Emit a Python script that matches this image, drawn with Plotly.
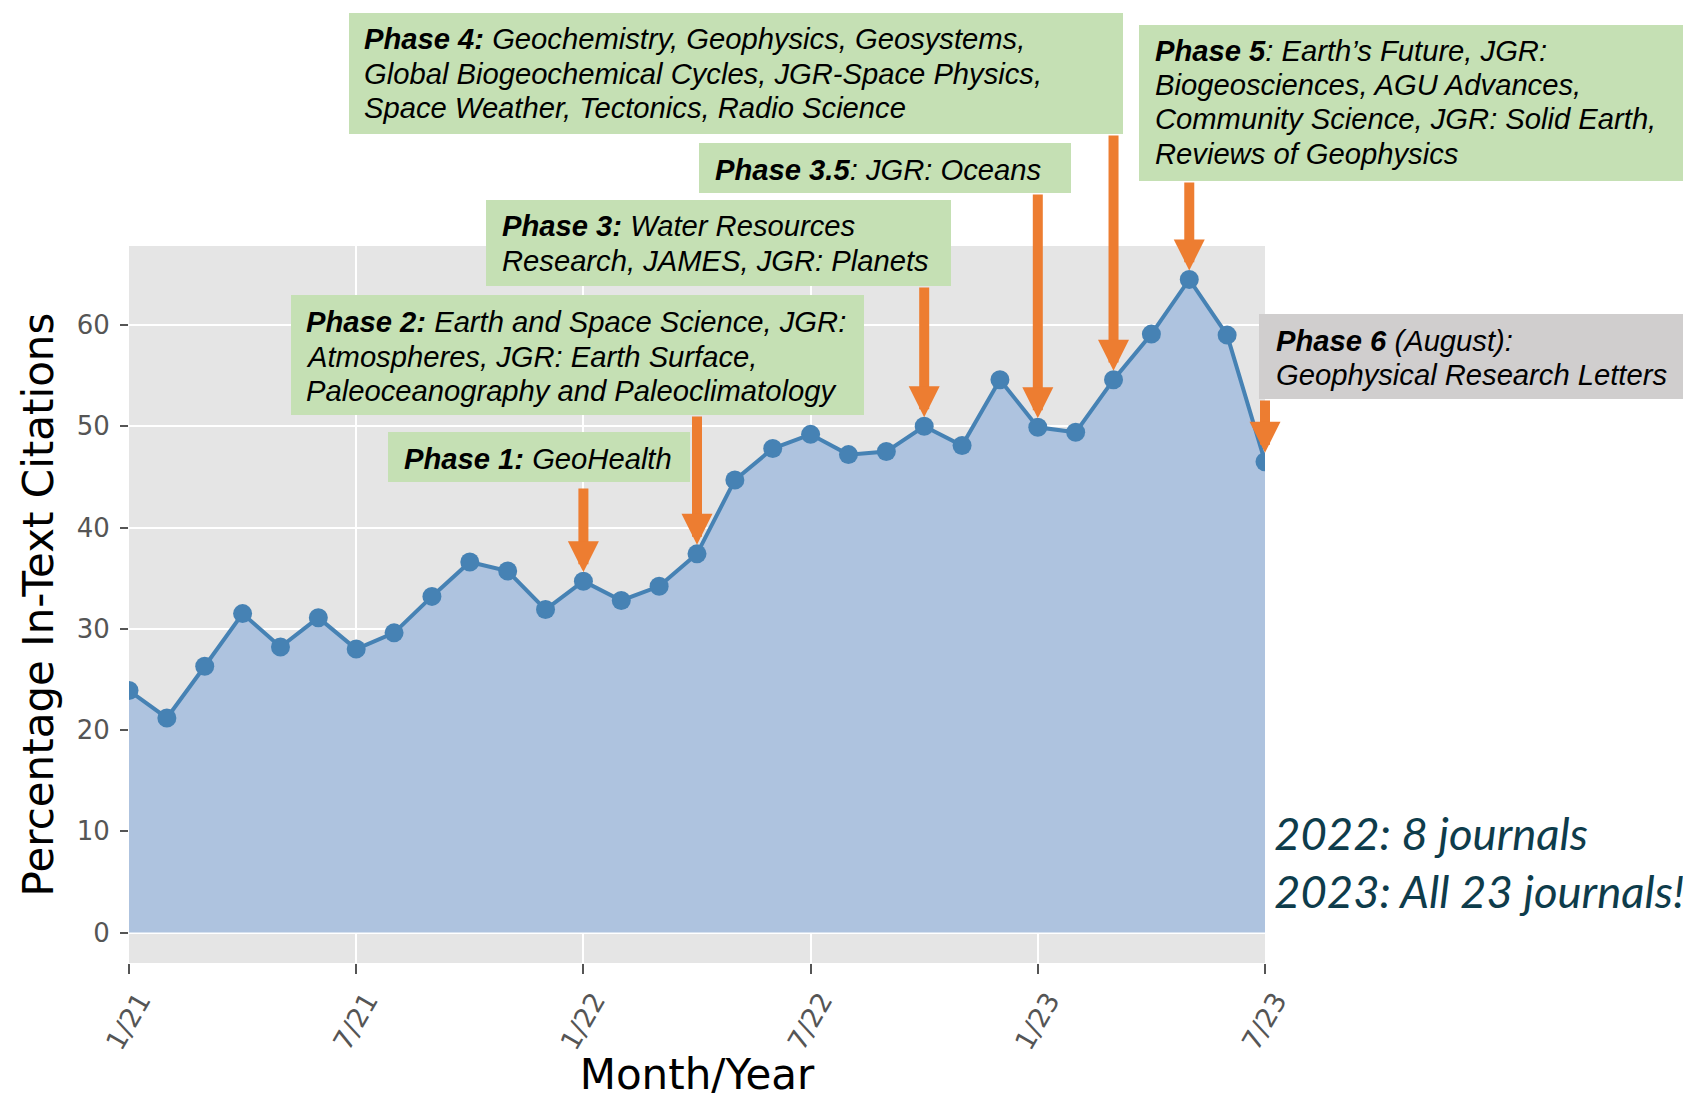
import plotly.graph_objects as go

# ---------------- data ----------------
months = ["1/21", "2/21", "3/21", "4/21", "5/21", "6/21", "7/21", "8/21", "9/21", "10/21",
          "11/21", "12/21", "1/22", "2/22", "3/22", "4/22", "5/22", "6/22", "7/22", "8/22",
          "9/22", "10/22", "11/22", "12/22", "1/23", "2/23", "3/23", "4/23", "5/23", "6/23",
          "7/23"]
citation_pct = [23.9, 21.2, 26.3, 31.5, 28.2, 31.1, 28.0, 29.6, 33.2, 36.6,
                35.7, 31.9, 34.7, 32.8, 34.2, 37.4, 44.7, 47.8, 49.2, 47.2,
                47.5, 50.0, 48.1, 54.6, 49.9, 49.4, 54.6, 59.1, 64.5, 59.0,
                46.5]
x_tick_labels = ["1/21", "7/21", "1/22", "7/22", "1/23", "7/23"]
y_tick_values = [0, 10, 20, 30, 40, 50, 60]

phase_texts = [
    ["<b>Phase 1:</b> GeoHealth"],
    ["<b>Phase 2:</b> Earth and Space Science, JGR:",
     "Atmospheres, JGR: Earth Surface,",
     "Paleoceanography and Paleoclimatology"],
    ["<b>Phase 3:</b> Water Resources",
     "Research, JAMES, JGR: Planets"],
    ["<b>Phase 3.5</b>: JGR: Oceans"],
    ["<b>Phase 4:</b> Geochemistry, Geophysics, Geosystems,",
     "Global Biogeochemical Cycles, JGR-Space Physics,",
     "Space Weather, Tectonics, Radio Science"],
    ["<b>Phase 5</b>: Earth\u2019s Future, JGR:",
     "Biogeosciences, AGU Advances,",
     "Community Science, JGR: Solid Earth,",
     "Reviews of Geophysics"],
    ["<b>Phase 6</b> (August):",
     "Geophysical Research Letters"],
]
phase_months = ["1/22", "4/22", "10/22", "1/23", "3/23", "5/23", "7/23"]
summary_lines = ["2022: 8 journals", "2023: All 23 journals!"]

# ---------------- layout constants (pixels in the 1691x1099 page) ----------------
W, H = 1691, 1099
BODY = 8  # default page margin of the html body
L, R, T, B = 129, 1265, 246, 963
Y_MIN, Y_MAX = -3.0, 67.8

GREEN = "#c5e0b4"
GREY = "#d0cece"
ORANGE = "#ed7d31"

# x0, y0, x1, y1, text_x, first_line_y, line_step, fill, arrow_tail_y
box_layout = [
    (388, 432, 690, 482, 404, 459, 34.7, GREEN, 487),
    (291, 295, 864, 415, 306, 322, 34.7, GREEN, 415),
    (486, 200, 951, 286, 502, 226, 35.0, GREEN, 286),
    (699, 143, 1071, 193, 715, 170, 34.7, GREEN, 193),
    (349, 13, 1123, 134, 364, 39, 34.7, GREEN, 134),
    (1139, 25, 1686, 181, 1155, 51, 34.2, GREEN, 181),
    (1259, 314, 1686, 399, 1276, 341, 34.0, GREY, 399),
]


def px_x(px):
    return (px - L) / (R - L)


def px_y(py):
    return (B - py) / (B - T)


def px_to_data_y(py):
    return Y_MIN + (B - py) / (B - T) * (Y_MAX - Y_MIN)


fig = go.Figure()
fig.add_trace(go.Scatter(
    x=months, y=citation_pct,
    mode="lines+markers",
    fill="tozeroy",
    fillcolor="#aec3df",
    line=dict(color="#4682b4", width=4),
    marker=dict(color="#4682b4", size=19),
    showlegend=False,
))

shapes = []
annotations = []
for lines, month, (x0, y0, x1, y1, tx, ly, step, col, tail) in zip(phase_texts, phase_months, box_layout):
    shapes.append(dict(type="rect", xref="paper", yref="paper",
                       x0=px_x(x0), x1=px_x(x1), y0=px_y(y1), y1=px_y(y0),
                       fillcolor=col, line=dict(width=0), layer="above"))
    for i, ln in enumerate(lines):
        annotations.append(dict(
            xref="paper", yref="paper", x=px_x(tx), y=px_y(ly + i * step),
            xanchor="left", yanchor="middle", showarrow=False,
            text="<i>" + ln + "</i>", align="left",
            borderpad=0, borderwidth=0,
            font=dict(family="Liberation Sans, Arial, sans-serif", size=29.2, color="black"),
        ))
    idx = months.index(month)
    annotations.append(dict(
        xref="x", yref="y", axref="x", ayref="y",
        x=idx, y=citation_pct[idx], ax=idx, ay=px_to_data_y(tail),
        text="", showarrow=True, arrowhead=2, arrowsize=0.62,
        arrowwidth=10, arrowcolor=ORANGE, standoff=9,
    ))

summary_y = [832, 890]
for ln, yy in zip(summary_lines, summary_y):
    annotations.append(dict(
        xref="paper", yref="paper", x=px_x(1274), y=px_y(yy),
        xanchor="left", yanchor="middle", showarrow=False,
        text="<i>" + ln + "</i>", borderpad=0, borderwidth=0,
        font=dict(family="Lato, Open Sans, sans-serif", size=45.5, color="#0e3c4b"),
    ))

fig.update_layout(
    width=W - BODY, height=H - BODY,
    margin=dict(l=L - BODY, r=W - R, t=T - BODY, b=H - B, pad=0, autoexpand=False),
    paper_bgcolor="white",
    plot_bgcolor="#e5e5e5",
    shapes=shapes,
    annotations=annotations,
    font=dict(family="DejaVu Sans", color="#555555"),
)
fig.update_xaxes(
    type="category", categoryorder="array", categoryarray=months,
    range=[0, len(months) - 1], automargin=False,
    tickmode="array", tickvals=x_tick_labels, ticktext=x_tick_labels,
    tickangle=-60, ticks="outside", ticklen=10, tickwidth=1.5, tickcolor="#555555",
    ticklabelshift=11,
    tickfont=dict(family="DejaVu Sans", size=27, color="#555555"),
    showgrid=True, gridcolor="white", gridwidth=2,
    zeroline=False, showline=False,
    title=dict(text="Month/Year", font=dict(family="DejaVu Sans", size=42, color="black"), standoff=17),
)
fig.update_yaxes(
    range=[Y_MIN, Y_MAX], automargin=False,
    tickmode="array", tickvals=y_tick_values,
    ticks="outside", ticklen=8, tickwidth=1.5, tickcolor="#555555",
    ticklabelstandoff=5,
    tickfont=dict(family="DejaVu Sans", size=26, color="#555555"),
    showgrid=True, gridcolor="white", gridwidth=2,
    zeroline=False, showline=False,
    title=dict(text="Percentage In-Text Citations", font=dict(family="DejaVu Sans", size=42, color="black"), standoff=10),
)

fig.write_html("out.html")
